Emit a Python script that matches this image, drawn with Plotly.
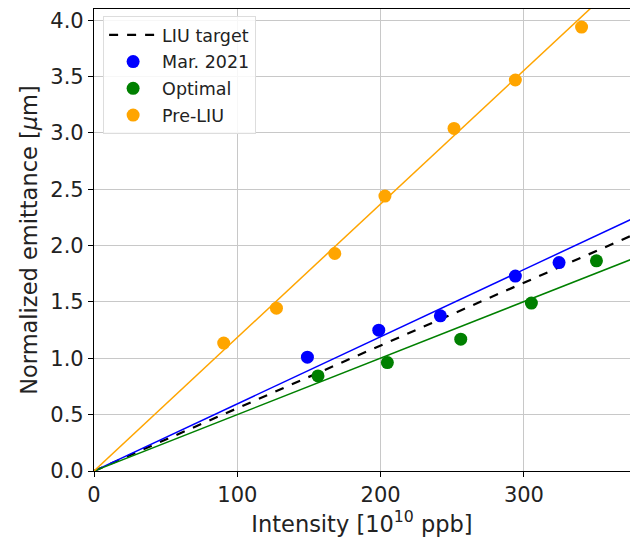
import plotly.graph_objects as go

# Data
pre_liu_x = [90.5, 127.3, 168.0, 203.0, 251.2, 294.0, 340.2]
pre_liu_y = [1.135, 1.445, 1.93, 2.44, 3.04, 3.47, 3.94]
pre_liu_yerr = [0.04, 0.04, 0.04, 0.04, 0.04, 0.05, 0.05]
pre_liu_xerr = [3, 3, 3, 3, 3, 3, 3]

mar2021_x = [148.9, 198.7, 241.7, 294.0, 324.5]
mar2021_y = [1.01, 1.25, 1.377, 1.73, 1.85]

optimal_x = [156.3, 204.7, 255.9, 305.2, 350.6]
optimal_y = [0.844, 0.962, 1.17, 1.49, 1.865]

# Fitted slopes (lines through origin)
slope_pre_liu = 0.01185
slope_mar2021 = 0.00596
slope_optimal = 0.00501
slope_liu_target = 0.00557

x_line = [0, 380]

ORANGE = "#FFA500"
BLUE = "#0000FF"
GREEN = "#008000"

fig = go.Figure()

fig.add_trace(go.Scatter(x=x_line, y=[slope_liu_target * v for v in x_line], mode="lines",
                         line=dict(color="black", width=2.2, dash="dash"), name="LIU target",
                         legendgroup="a"))
fig.add_trace(go.Scatter(x=x_line, y=[slope_mar2021 * v for v in x_line], mode="lines",
                         line=dict(color=BLUE, width=1.5), showlegend=False))
fig.add_trace(go.Scatter(x=x_line, y=[slope_optimal * v for v in x_line], mode="lines",
                         line=dict(color=GREEN, width=1.5), showlegend=False))
fig.add_trace(go.Scatter(x=x_line, y=[slope_pre_liu * v for v in x_line], mode="lines",
                         line=dict(color=ORANGE, width=1.5), showlegend=False))

fig.add_trace(go.Scatter(x=mar2021_x, y=mar2021_y, mode="markers", name="Mar. 2021",
                         marker=dict(color=BLUE, size=13), legendgroup="b"))
fig.add_trace(go.Scatter(x=optimal_x, y=optimal_y, mode="markers", name="Optimal",
                         marker=dict(color=GREEN, size=13), legendgroup="c"))
fig.add_trace(go.Scatter(x=pre_liu_x, y=pre_liu_y, mode="markers", name="Pre-LIU",
                         marker=dict(color=ORANGE, size=13), legendgroup="d",
                         error_y=dict(type="data", array=pre_liu_yerr, color=ORANGE, thickness=1.5, width=0),
                         error_x=dict(type="data", array=pre_liu_xerr, color=ORANGE, thickness=1.5, width=0)))

font = "DejaVu Sans, sans-serif"
fig.update_layout(
    width=630, height=538,
    margin=dict(l=94, r=0, t=9, b=67),
    paper_bgcolor="white", plot_bgcolor="white",
    font=dict(family=font, size=21, color="#222222"),
    showlegend=True,
    legend=dict(x=0.017, y=0.985, xanchor="left", yanchor="top",
                bgcolor="rgba(255,255,255,0.85)", bordercolor="#dddddd", borderwidth=1,
                font=dict(family=font, size=17.5, color="#222222"),
                tracegroupgap=1, itemwidth=48),
    xaxis=dict(range=[0, 374], tickvals=[0, 100, 200, 300],
               showgrid=True, gridcolor="#c8c8c8", gridwidth=1.3,
               showline=True, linecolor="black", linewidth=1.2, mirror=True,
               ticks="outside", ticklen=5, tickcolor="black",
               zeroline=False, tickfont=dict(size=21),
               title=dict(text="Intensity [10<sup>10</sup> ppb]", font=dict(size=22.5), standoff=6)),
    yaxis=dict(range=[0, 4.1], tickvals=[0, 0.5, 1, 1.5, 2, 2.5, 3, 3.5, 4],
               ticktext=["0.0", "0.5", "1.0", "1.5", "2.0", "2.5", "3.0", "3.5", "4.0"],
               showgrid=True, gridcolor="#c8c8c8", gridwidth=1.3,
               showline=True, linecolor="black", linewidth=1.2, mirror=True,
               ticks="outside", ticklen=5, tickcolor="black",
               zeroline=False, tickfont=dict(size=21),
               title=dict(text="Normalized emittance [<i>μ</i>m]", font=dict(size=22.5), standoff=6)),
)

fig.write_html("out.html")
